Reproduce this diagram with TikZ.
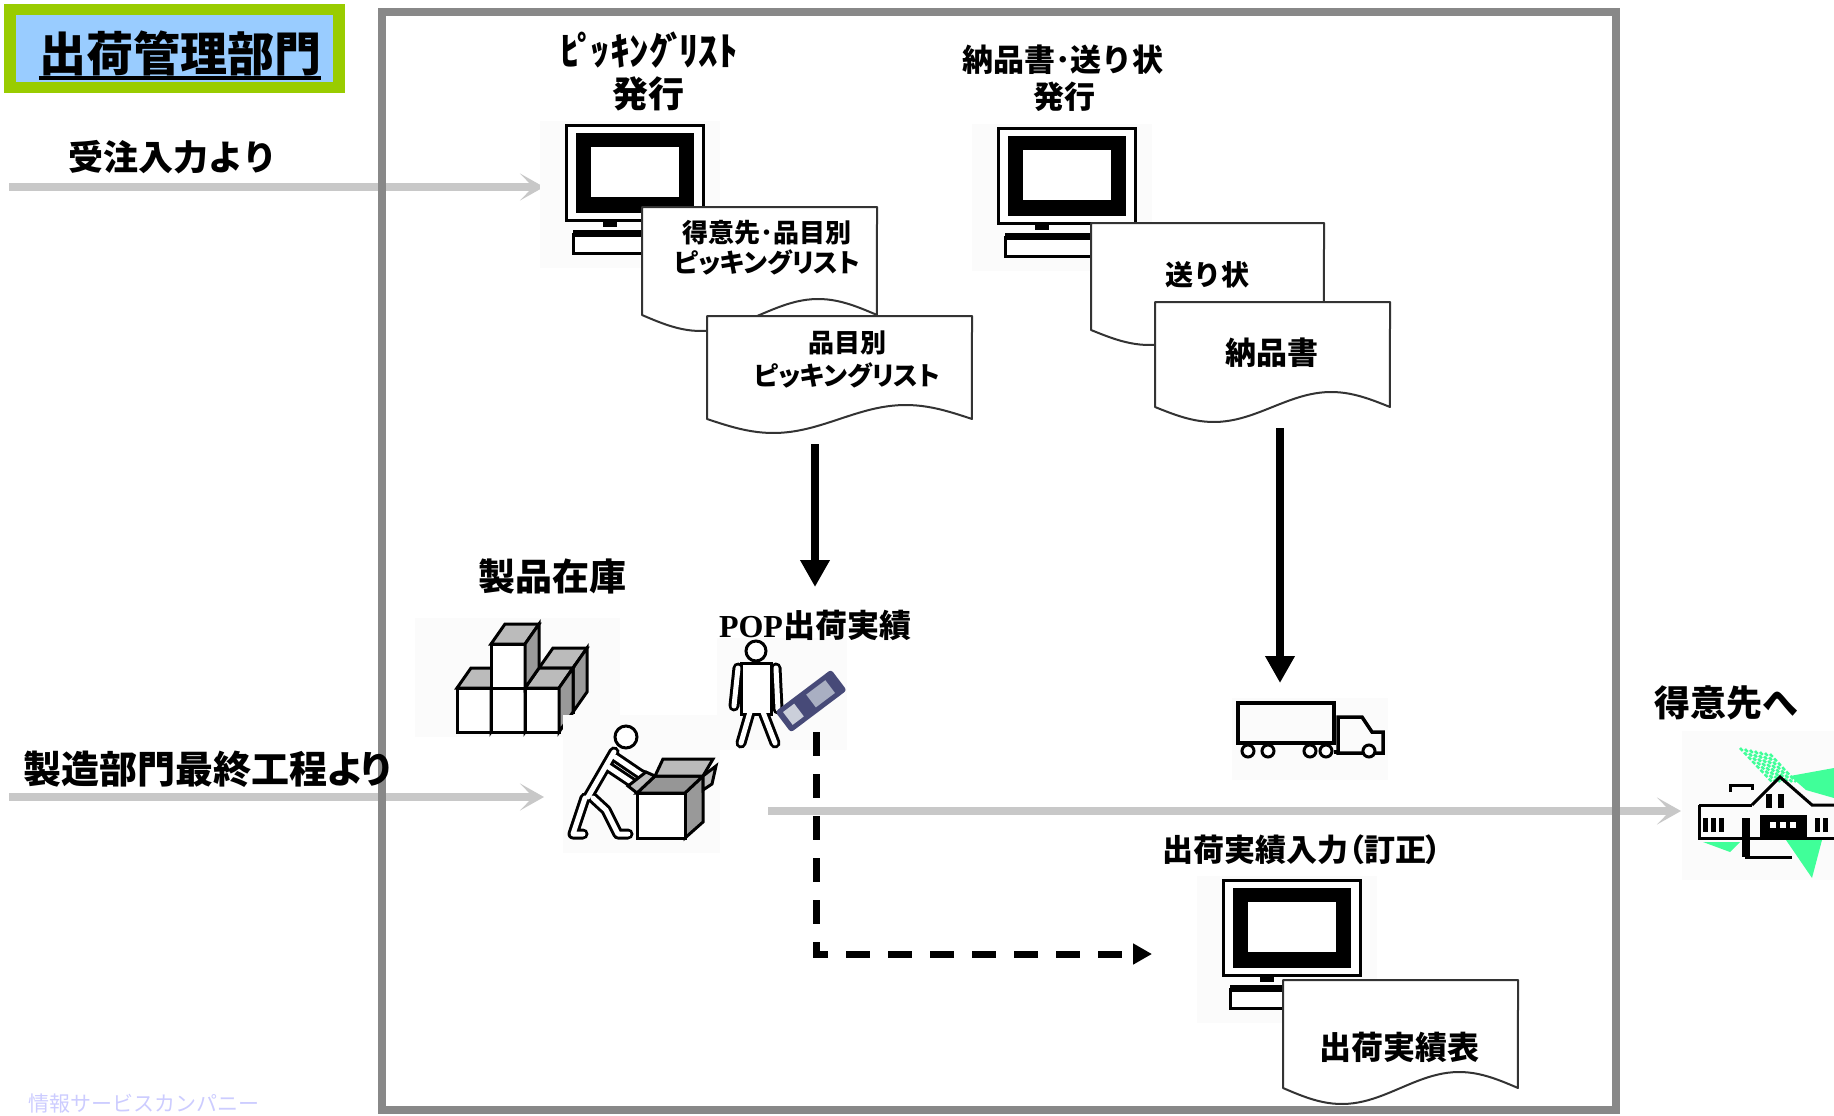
\documentclass[tikz,border=0pt]{standalone}
\usepackage{fontspec}
\newfontfamily\jp{Noto Sans CJK JP}
\newfontfamily\jpp{Noto Sans CJK JP}[RawFeature=+palt]
\newfontfamily\popfont{Liberation Serif}
\usetikzlibrary{arrows.meta,calc}

\definecolor{framegray}{HTML}{888888}
\definecolor{flowgray}{HTML}{C8C8C8}
\definecolor{titlegreen}{HTML}{99CC00}
\definecolor{titleblue}{HTML}{99CCFF}
\definecolor{boxtop}{HTML}{BBBBBB}
\definecolor{boxside}{HTML}{999999}
\definecolor{mint}{HTML}{40FF99}
\definecolor{lavender}{HTML}{CCCCFF}
\definecolor{padblue}{HTML}{474A78}
\definecolor{padscreen}{HTML}{A9AFC2}
\definecolor{clipbg}{HTML}{FBFBFB}
\definecolor{docline}{HTML}{333333}

\newcommand\fsz[1]{\fontsize{#1}{#1}\selectfont}

% desktop computer pictogram, #1,#2 = top-left corner of the monitor
\newcommand\monitor[2]{%
  \begin{scope}[shift={(#1,#2)}]
    \fill[clipbg] (-25,-3) rectangle (155,144);
    \fill[white] (0,0) rectangle (140,98);
    \draw[line width=3] (1.5,1.5) rectangle (138.5,96.5);
    \fill (11,9) rectangle (129,89);
    \fill[white] (26,23) rectangle (114,73);
    \fill (38,97) rectangle (52,103);
    \fill (24,106) rectangle (118,112);
    \filldraw[fill=white,line width=3] (8.5,110) rectangle (116,129.5);
    \fill (8,106) rectangle (118,113);
  \end{scope}}

% paper document with a wavy lower edge: name, x-left, top, x-right, bottom, amplitude
\newcommand\paper[6]{%
  \path[fill=white,draw=docline,line width=2,line join=round]
    (#2,#3) -- (#2,#5)
    -- plot[domain=0:1,samples=48] ({#2+\x*(#4-#2)},{#5+#6*sin(360*\x)})
    -- (#4,#3) -- cycle;
  \coordinate (#1) at ({(#2+#4)/2},#3);}

% carton: x-left, y-bottom of the front face, front colour
\newcommand\carton[3]{%
  \filldraw[fill=#3,line width=3,line join=miter] (#1,#2) rectangle ++(34,-44);
  \filldraw[fill=boxtop,line width=3] (#1,#2-44) -- ++(14,-20) -- ++(34,0) -- ++(-14,20) -- cycle;
  \filldraw[fill=boxside,line width=3] (#1+34,#2) -- ++(14,-20) -- ++(0,-44) -- ++(-14,20) -- cycle;}

\tikzset{
  lbl/.style={inner sep=0pt,font=\jp\bfseries},
  blk/.style={line width=8,-{Triangle[length=27pt,width=28pt]}},
  dsh/.style={line width=7,dash pattern=on 24pt off 18pt,-{Triangle[length=19pt,width=20pt]}},
  gry/.style={flowgray,line width=8,-{Stealth[length=24pt,width=27pt,inset=13pt]}},
  limbout/.style={line width=11,line cap=round,line join=round},
  limbin/.style={white,line width=5,line cap=round,line join=round},
}

\begin{document}
\begin{tikzpicture}[x=1pt,y=-1pt]
\useasboundingbox (0,0) rectangle (1834,1116);
\clip (0,0) rectangle (1834,1116);

% ---------- department title ----------
\fill[titlegreen] (4,4) rectangle (345,93);
\fill[titleblue] (16,15) rectangle (333,82);
\node[lbl,font=\jp\bfseries\fsz{47}] (title) at (180,53) {出荷管理部門};
\draw[line width=4] ([yshift=-7pt]title.base west) -- ([yshift=-7pt]title.base east);

% ---------- incoming / outgoing flows ----------
\coordinate (orderin) at (9,187);
\coordinate (orderend) at (544,187);
\coordinate (prodin) at (9,797);
\coordinate (prodend) at (544,797);
\coordinate (shipout) at (768,811);
\coordinate (custin) at (1681,811);
\draw[gry] (orderin) -- (orderend);
\draw[gry] (prodin) -- (prodend);
\draw[gry] (shipout) -- (custin);

% ---------- department frame ----------
\draw[framegray,line width=8] (381.5,12) rectangle (1616,1110);

% ---------- picking list printing ----------
\monitor{565}{124}
\paper{docA}{642}{207}{877}{315}{16}
\paper{docB}{707}{316}{972}{419}{14}

% ---------- delivery note / invoice printing ----------
\monitor{997}{127}
\paper{docC}{1091}{223}{1324}{330}{15}
\paper{docD}{1155}{302}{1390}{407}{15}

% ---------- shipment result input ----------
\monitor{1222}{879}
\paper{docE}{1283}{980}{1518}{1088}{16}

% ---------- stock cartons ----------
\fill[clipbg] (415,618) rectangle (620,737);
\carton{539}{712}{boxside}
\carton{457}{732}{white}
\carton{491}{732}{white}
\carton{525}{732}{white}
\carton{491}{688}{white}

% ---------- worker packing a carton ----------
\fill[clipbg] (563,715) rectangle (720,853);
\draw[limbout] (614,752) -- (588,797);
\draw[limbout] (585,798) -- (573,834) -- (583,834);
\draw[limbout] (593,798) -- (606,810) -- (618,834) -- (628,834);
\draw[limbout] (615,757) -- (640,774) -- (648,778);
\draw[limbout] (607,766) -- (634,784);
\draw[limbin] (614,752) -- (588,797);
\draw[limbin] (585,798) -- (573,834) -- (583,834);
\draw[limbin] (593,798) -- (606,810) -- (618,834) -- (628,834);
\draw[limbin] (615,757) -- (640,774) -- (648,778);
\draw[limbin] (607,766) -- (634,784);
\filldraw[fill=white,line width=3] (626,737) circle (11);
\filldraw[fill=boxside,line width=3] (685,838) -- (685,793) -- (703,776) -- (703,822) -- cycle;
\filldraw[fill=boxtop!80!black,line width=3] (637,793) -- (655,776) -- (703,776) -- (685,793) -- cycle;
\filldraw[fill=boxtop,line width=3] (655,776) -- (663,759) -- (713,759) -- (703,776) -- cycle;
\filldraw[fill=boxtop,line width=3] (637,793) -- (628,786) -- (646,772) -- (655,776) -- cycle;
\filldraw[fill=boxtop,line width=3] (703,776) -- (716,766) -- (712,784) -- (703,790) -- cycle;
\filldraw[fill=white,line width=3] (637,793) rectangle (685,838);

% ---------- worker with handheld terminal ----------
\fill[clipbg] (717,638) rectangle (847,750);
\draw[limbout] (738,668) -- (734,706);
\draw[limbout] (776,668) -- (778,709);
\draw[limbout] (750,712) -- (741,743);
\draw[limbout] (763,712) -- (775,743);
\filldraw[fill=white,line width=3] (741,663) rectangle (771,714);
\draw[limbin] (738,668) -- (734,706);
\draw[limbin] (776,668) -- (778,709);
\draw[limbin] (750,712) -- (741,743);
\draw[limbin] (763,712) -- (775,743);
\fill[white] (743,665) rectangle (769,712);
\filldraw[fill=white,line width=3] (756,651) circle (10);
\begin{scope}[shift={(811,701)},rotate=37]
  \fill[padblue,rounded corners=3] (-35,-13) rectangle (35,13);
  \fill[padscreen] (0,-8) rectangle (24,8);
  \fill[padscreen!60!white] (-29,-8) rectangle (-15,8);
\end{scope}

% ---------- truck ----------
\fill[clipbg] (1232,698) rectangle (1388,780);
\draw[line width=3.5] (1238,703) rectangle (1334,743);
\draw[line width=3.5,line join=miter] (1338,753) -- (1338,717) -- (1362,717) -- (1372,732) -- (1383,732) -- (1383,753) -- cycle;
\draw[line width=3.5] (1334,752) -- (1338,752);
\foreach \wx in {1248,1268,1310,1326,1369}
  \filldraw[fill=white,line width=3] (\wx,751) circle (6);

% ---------- customer building ----------
\fill[clipbg] (1682,731) rectangle (1834,880);
\foreach \k in {0,...,6}
  \draw[mint,line width=2.5,dash pattern=on 4pt off 2pt] (1740+\k*5,748+\k) -- (1772+\k*4,782);
\fill[mint] (1790,776) -- (1834,768) -- (1834,798) -- (1806,790) -- cycle;
\fill[mint] (1786,840) -- (1822,840) -- (1812,878) -- cycle;
\fill[mint] (1703,842) -- (1740,842) -- (1730,852) -- cycle;
\draw[line width=3] (1699,805) -- (1752,805);
\draw[line width=3] (1752,805) -- (1780,777) -- (1812,805) -- (1834,805);
\draw[line width=3] (1730,792) -- (1730,785) -- (1752,785) -- (1752,790);
\draw[line width=3] (1699,805) -- (1699,838) -- (1834,838);
\draw[line width=3] (1745,857) -- (1792,857);
\fill (1766,794) rectangle (1772,808);
\fill (1778,794) rectangle (1784,808);
\foreach \bx in {1703,1711,1719} \fill (\bx,818) rectangle ++(5,14);
\fill (1742,818) rectangle (1750,857);
\fill (1760,815) rectangle (1807,838);
\foreach \bx in {1770,1780,1790} \fill[white] (\bx,822) rectangle ++(6,6);
\foreach \bx in {1815,1823} \fill (\bx,818) rectangle ++(5,14);

% ---------- process connectors ----------
\coordinate (pickout) at (815,444);
\coordinate (popin) at (815,587);
\coordinate (noteout) at (1280,428);
\coordinate (truckin) at (1280,683);
\coordinate (popout) at (816,732);
\coordinate (resultin) at (1152,954);
\draw[blk] (pickout) -- (popin);
\draw[blk] (noteout) -- (truckin);
\draw[dsh] (popout) |- (resultin);

% ---------- labels ----------
\node[lbl,font=\jp\bfseries\fsz{35}] (ordersrc) at (173,157) {受注入力より};
\node[lbl,font=\jpp\bfseries\fsz{38}] (prodsrc) at (207,769) {製造部門最終工程より};
\node[lbl,font=\jp\bfseries\fsz{39}] (pickhead) at (649,50) {ﾋ\kern-3ptﾟ\kern-6ptｯｷﾝｸ\kern-3ptﾞ\kern-6ptﾘｽﾄ};
\node[lbl,font=\jp\bfseries\fsz{36}] (pickhead2) at (648,94) {発行};
\node[lbl,font=\jp\bfseries\fsz{31}] (notehead) at (1063,60) {納品書･送り状};
\node[lbl,font=\jp\bfseries\fsz{31}] (notehead2) at (1064,97) {発行};
\node[lbl,font=\jp\bfseries\fsz{26}] (docAa) at (767,233) {得意先･品目別};
\node[lbl,font=\jpp\bfseries\fsz{26}] (docAb) at (767,262) {ピッキングリスト};
\node[lbl,font=\jp\bfseries\fsz{26}] (docBa) at (847,343) {品目別};
\node[lbl,font=\jpp\bfseries\fsz{26}] (docBb) at (847,375) {ピッキングリスト};
\node[lbl,font=\jp\bfseries\fsz{28}] (docCt) at (1207,275) {送り状};
\node[lbl,font=\jp\bfseries\fsz{31}] (docDt) at (1272,353) {納品書};
\node[lbl,font=\jp\bfseries\fsz{37}] (stock) at (552,576) {製品在庫};
\node[lbl,font=\fsz{32}] (pop) at (815,625) {{\popfont\bfseries POP}{\jp\bfseries 出荷実績}};
\node[lbl,font=\jp\bfseries\fsz{36}] (cust) at (1726,703) {得意先へ};
\node[lbl,font=\jpp\bfseries\fsz{31}] (result) at (1302,850) {出荷実績入力（訂正）};
\node[lbl,font=\jp\bfseries\fsz{32}] (docEt) at (1399,1047) {出荷実績表};
\node[inner sep=0pt,anchor=south west,text=lavender,font=\jp\fsz{21}] (company) at (28,1113) {情報サービスカンパニー};
\end{tikzpicture}
\end{document}
